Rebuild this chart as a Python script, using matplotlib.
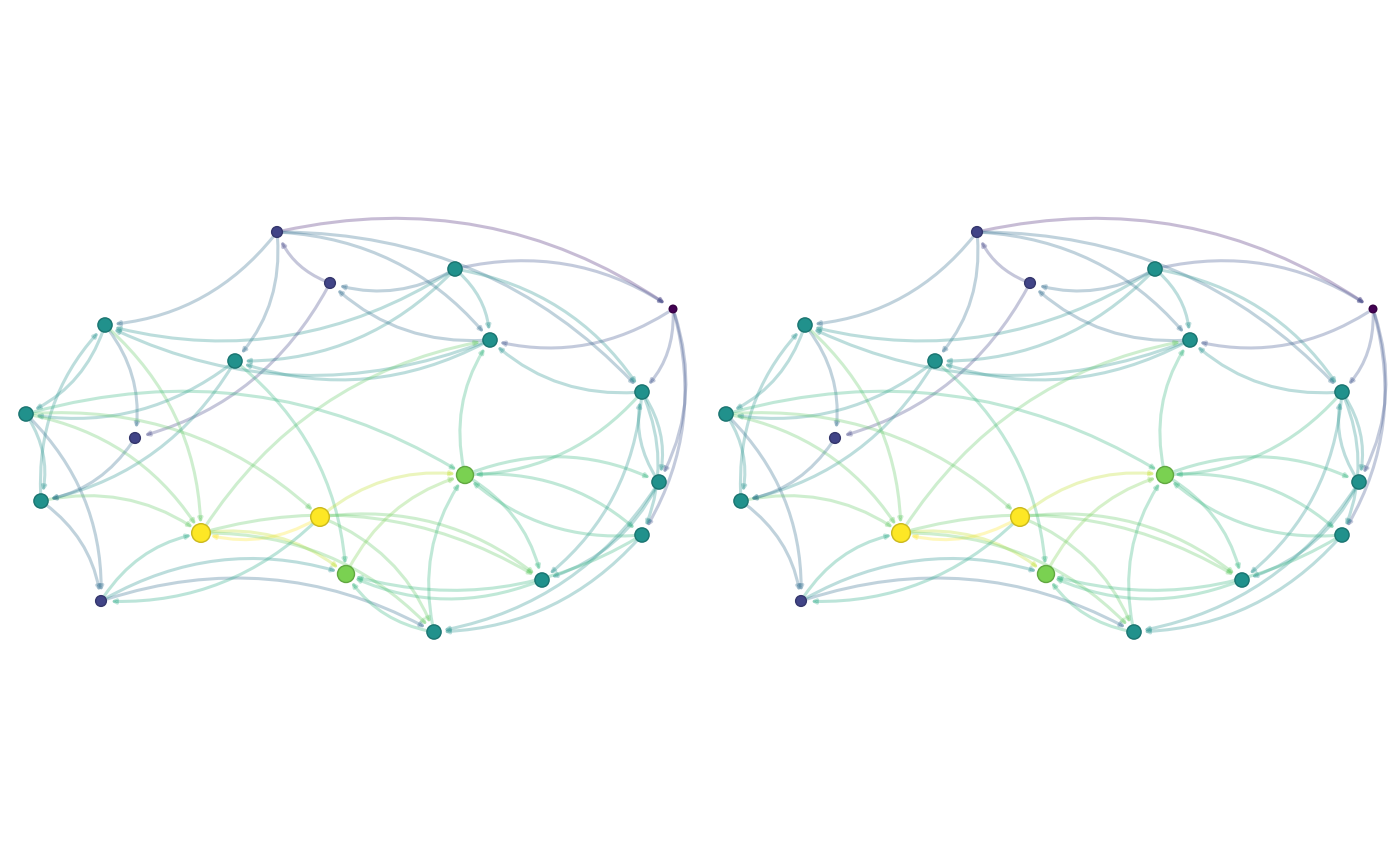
import matplotlib
matplotlib.use("Agg")
import matplotlib.pyplot as plt
from matplotlib.patches import FancyArrowPatch
import numpy as np

node_x = [277,330,455,673,490,105,235,26,135,642,465,41,320,201,346,659,642,542,101,434]
node_y = [232,283,269,309,340,325,361,414,438,392,475,501,517,533,574,482,535,580,601,632]
node_val = [2,2,5,0,5,5,5,5,2,5,8,5,10,10,8,5,5,5,2,5]
edges = [(0,3),(0,5),(0,6),(0,4),(1,0),(0,9),(2,3),(2,5),(2,6),(2,4),(2,9),(4,1),(1,8),(3,4),(3,9),(3,15),(3,16),
         (4,5),(4,6),(9,4),(10,4),(13,4),(5,7),(5,8),(5,13),(11,5),(6,7),(6,14),(6,11),(7,11),(7,12),(7,18),(7,10),
         (7,13),(11,13),(11,18),(8,11),(12,13),(12,10),(12,17),(12,19),(13,14),(18,13),(13,19),(13,17),(14,10),
         (10,15),(10,16),(10,17),(19,10),(9,10),(9,16),(9,17),(9,15),(15,19),(15,17),(16,14),(16,19),(17,14),
         (18,19),(18,14),(12,18),(19,14),(2,1),(16,10),(15,9)]

cmap = plt.get_cmap('viridis')
vmax = max(node_val)
fig = plt.figure(figsize=(14, 8.65), dpi=100)
for p in range(2):
    ax = fig.add_axes([p*0.5, 0, 0.5, 1])
    ax.set_xlim(0, 700); ax.set_ylim(865, 0); ax.axis('off')
    for s, t in edges:
        c = cmap((node_val[s] + node_val[t]) / 2 / vmax)
        ax.add_patch(FancyArrowPatch((node_x[s], node_y[s]), (node_x[t], node_y[t]),
                     connectionstyle="arc3,rad=-0.22", arrowstyle='-|>', mutation_scale=6,
                     color=c, alpha=0.3, lw=2.2, shrinkA=4, shrinkB=7))
    sizes = [30 + 15*v for v in node_val]
    ax.scatter(node_x, node_y, s=sizes, c=[cmap(v/vmax) for v in node_val],
               edgecolors=[tuple(np.array(cmap(v/vmax)[:3])*0.8) for v in node_val], linewidths=1, zorder=5)
fig.savefig("out.png", dpi=100)
